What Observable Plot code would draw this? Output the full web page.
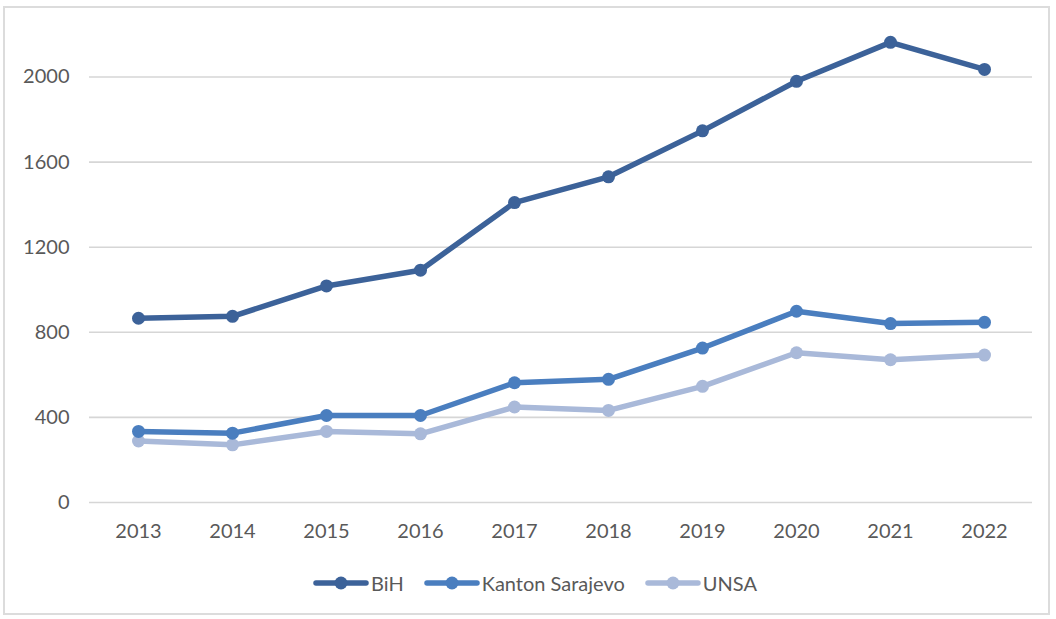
<!DOCTYPE html>
<html>
<head>
<meta charset="utf-8">
<script src="https://cdn.jsdelivr.net/npm/d3@7"></script>
<script src="https://cdn.jsdelivr.net/npm/@observablehq/plot@0.6"></script>
<style>
  html, body { margin: 0; padding: 0; background: #fff; }
  #wrap { position: relative; width: 1056px; height: 619px; overflow: hidden; font-family: Lato, "Open Sans", sans-serif; }
  #frame { position: absolute; left: 3px; top: 6px; width: 1047px; height: 609px; border: 2px solid #dcdcdc; box-sizing: border-box; pointer-events: none; }
  #chart { position: absolute; left: 0; top: 0; }
  #legend { position: absolute; left: 0; top: 571px; width: 1056px; display: flex; justify-content: center; gap: 20px; font-size: 20px; color: #595959; padding-left: 14px; box-sizing: border-box; }
  .item { display: flex; align-items: center; gap: 2px; }
</style>
</head>
<body>
<div id="wrap">
  <div id="chart"></div>
  <div id="legend"></div>
  <div id="frame"></div>
</div>
<script>
const years = [2013, 2014, 2015, 2016, 2017, 2018, 2019, 2020, 2021, 2022];
const bih = [866, 875, 1018, 1092, 1410, 1531, 1747, 1980, 2163, 2036];
const kantonSarajevo = [334, 326, 409, 409, 563, 579, 726, 899, 841, 847];
const unsa = [289, 271, 334, 323, 449, 433, 546, 704, 671, 693];
const seriesNames = ["BiH", "Kanton Sarajevo", "UNSA"];
const seriesColors = ["#3c6299", "#4a7ebf", "#a9b9d9"];
const yTicks = [0, 400, 800, 1200, 1600, 2000];

const seriesValues = [bih, kantonSarajevo, unsa];
const data = [];
// draw UNSA first, BiH last (on top)
for (let s = seriesNames.length - 1; s >= 0; s--) {
  years.forEach((y, i) => data.push({year: String(y), value: seriesValues[s][i], series: seriesNames[s]}));
}

const chart = Plot.plot({
  width: 1056,
  height: 560,
  marginLeft: 89,
  marginRight: 24,
  marginTop: 34,
  marginBottom: 58,
  style: {fontFamily: "Lato, 'Open Sans', sans-serif", fontSize: "20px", color: "#595959", background: "transparent"},
  x: {type: "point", domain: years.map(String), padding: 0.5, label: null},
  y: {domain: [0, 2200], label: null},
  color: {domain: seriesNames, range: seriesColors},
  marks: [
    Plot.ruleY(yTicks, {stroke: "#d6d6d6", strokeWidth: 1.6}),
    Plot.axisY({ticks: yTicks, tickSize: 0, tickPadding: 20, tickFormat: d => String(d), fill: "#595959", label: null}),
    Plot.axisX({tickSize: 0, tickPadding: 21, fill: "#595959", label: null}),
    Plot.line(data, {x: "year", y: "value", z: "series", stroke: "series", strokeWidth: 5.5, strokeLinejoin: "round", strokeLinecap: "round"}),
    Plot.dot(data, {x: "year", y: "value", fill: "series", r: 6.5})
  ]
});
document.getElementById("chart").appendChild(chart);

const legend = document.getElementById("legend");
seriesNames.forEach((name, i) => {
  const item = document.createElement("div");
  item.className = "item";
  const svgNS = "http://www.w3.org/2000/svg";
  const sw = document.createElementNS(svgNS, "svg");
  sw.setAttribute("width", "56");
  sw.setAttribute("height", "20");
  const ln = document.createElementNS(svgNS, "line");
  ln.setAttribute("x1", "3"); ln.setAttribute("x2", "53");
  ln.setAttribute("y1", "10"); ln.setAttribute("y2", "10");
  ln.setAttribute("stroke", seriesColors[i]);
  ln.setAttribute("stroke-width", "5.5");
  ln.setAttribute("stroke-linecap", "round");
  const c = document.createElementNS(svgNS, "circle");
  c.setAttribute("cx", "28"); c.setAttribute("cy", "10"); c.setAttribute("r", "6.5");
  c.setAttribute("fill", seriesColors[i]);
  sw.appendChild(ln); sw.appendChild(c);
  const t = document.createElement("span");
  t.textContent = name;
  item.appendChild(sw); item.appendChild(t);
  legend.appendChild(item);
});
</script>
</body>
</html>
